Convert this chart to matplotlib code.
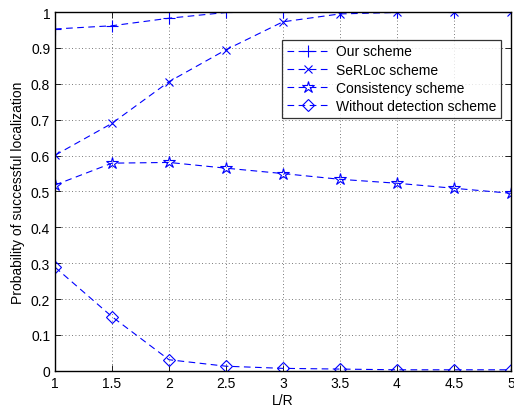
import matplotlib
matplotlib.use("Agg")
import matplotlib.pyplot as plt

plt.rcParams['font.family'] = ['Liberation Sans', 'DejaVu Sans']

lr = [1, 1.5, 2, 2.5, 3, 3.5, 4, 4.5, 5]
our_scheme = [0.953, 0.962, 0.983, 0.999, 1.0, 1.0, 1.0, 1.0, 1.0]
serloc_scheme = [0.601, 0.690, 0.806, 0.895, 0.973, 0.995, 0.999, 1.0, 1.0]
consistency_scheme = [0.518, 0.579, 0.581, 0.565, 0.550, 0.534, 0.523, 0.509, 0.495]
without_detection = [0.289, 0.151, 0.031, 0.013, 0.007, 0.005, 0.003, 0.003, 0.003]

labels = ['Our scheme', 'SeRLoc scheme', 'Consistency scheme', 'Without detection scheme']
x_ticks = [1, 1.5, 2, 2.5, 3, 3.5, 4, 4.5, 5]
x_tick_labels = ['1', '1.5', '2', '2.5', '3', '3.5', '4', '4.5', '5']
y_ticks = [0, 0.1, 0.2, 0.3, 0.4, 0.5, 0.6, 0.7, 0.8, 0.9, 1]
y_tick_labels = ['0', '0.1', '0.2', '0.3', '0.4', '0.5', '0.6', '0.7', '0.8', '0.9', '1']

fig = plt.figure(figsize=(5.14, 4.10), dpi=100)
ax = fig.add_axes([0.107, 0.093, 0.887, 0.875])

dash = (0, (6, 4))
common = dict(color='blue', linestyle=dash, linewidth=0.8, markeredgewidth=0.8)
ax.plot(lr, our_scheme, marker='+', markersize=9, label=labels[0], **common)
ax.plot(lr, serloc_scheme, marker='x', markersize=6, label=labels[1], **common)
ax.plot(lr, consistency_scheme, marker='*', markersize=9, fillstyle='none',
        label=labels[2], **common)
ax.plot(lr, without_detection, marker='D', markersize=6, fillstyle='none',
        label=labels[3], **common)

ax.set_xlim(1, 5)
ax.set_ylim(0, 1)
ax.set_xticks(x_ticks)
ax.set_xticklabels(x_tick_labels)
ax.set_yticks(y_ticks)
ax.set_yticklabels(y_tick_labels)
ax.tick_params(direction='in', top=True, right=True, labelsize=10, length=4, width=0.6)
ax.grid(True, linestyle=(0, (1, 3)), color='0.3', linewidth=0.6)
for s in ax.spines.values():
    s.set_linewidth(1.0)

ax.set_xlabel('L/R', fontsize=10, labelpad=2)
ax.set_ylabel('Probability of successful localization', fontsize=10, labelpad=4)

leg = ax.legend(loc='upper right', bbox_to_anchor=(0.993, 0.943), fontsize=10,
                frameon=True, fancybox=False, edgecolor='black', handlelength=3.1,
                borderpad=0.35, labelspacing=0.3, handletextpad=0.4)
leg.get_frame().set_linewidth(0.9)

fig.savefig('out.png', dpi=100)
